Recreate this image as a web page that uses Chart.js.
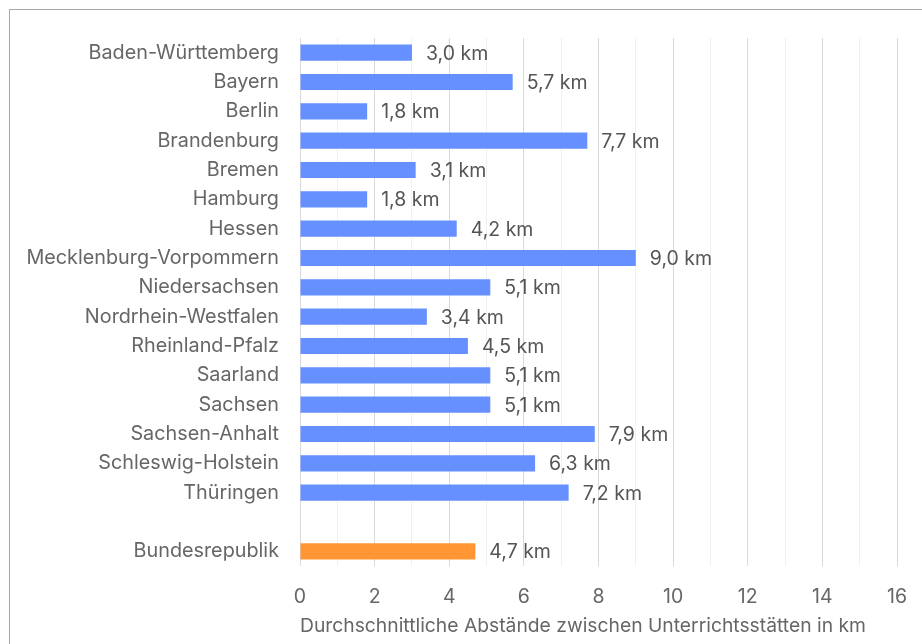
<!DOCTYPE html>
<html lang="de">
<head>
    <meta charset="UTF-8">
    <title>Durchschnittliche Abstände zwischen Unterrichtsstätten</title>
    <script src="https://cdn.jsdelivr.net/npm/chart.js"></script>
    <style>
        html, body {
            margin: 0;
            padding: 0;
            background: #fff;
            overflow: hidden;
        }
        .frame {
            position: absolute;
            left: 9px;
            top: 9px;
            width: 960px;
            height: 700px;
            border: 1px solid #a8a8a8;
        }
        .chart-container {
            position: absolute;
            left: 0;
            top: 0;
            width: 922px;
            height: 644px;
        }
    </style>
</head>
<body>
    <div class="frame"></div>
    <div class="chart-container">
        <canvas id="barChart"></canvas>
    </div>

    <script>
        // Länder (leere Zeile vor der Bundesrepublik)
        const categories = ['Baden-Württemberg', 'Bayern', 'Berlin', 'Brandenburg', 'Bremen', 'Hamburg', 'Hessen',
            'Mecklenburg-Vorpommern', 'Niedersachsen', 'Nordrhein-Westfalen', 'Rheinland-Pfalz', 'Saarland',
            'Sachsen', 'Sachsen-Anhalt', 'Schleswig-Holstein', 'Thüringen', '', 'Bundesrepublik'];
        const distances = [3.0, 5.7, 1.8, 7.7, 3.1, 1.8, 4.2, 9.0, 5.1, 3.4, 4.5, 5.1, 5.1, 7.9, 6.3, 7.2, null, 4.7];
        const barColors = ['#6690ff', '#6690ff', '#6690ff', '#6690ff', '#6690ff', '#6690ff', '#6690ff', '#6690ff',
            '#6690ff', '#6690ff', '#6690ff', '#6690ff', '#6690ff', '#6690ff', '#6690ff', '#6690ff', '#6690ff', '#ff9533'];
        const axisTitle = 'Durchschnittliche Abstände zwischen Unterrichtsstätten in km';

        const fontFamily = 'Inter, "Liberation Sans", sans-serif';

        // Werte rechts neben die Balken schreiben
        const valueLabels = {
            id: 'valueLabels',
            afterDatasetsDraw(chart) {
                const ctx = chart.ctx;
                const meta = chart.getDatasetMeta(0);
                ctx.save();
                ctx.font = '19.5px ' + fontFamily;
                ctx.fillStyle = '#555';
                ctx.textAlign = 'left';
                ctx.textBaseline = 'middle';
                meta.data.forEach((bar, i) => {
                    const v = distances[i];
                    if (v === null) return;
                    const text = v.toFixed(1).replace('.', ',') + ' km';
                    ctx.fillText(text, bar.x + 14, bar.y + 1);
                });
                ctx.restore();
            }
        };

        const ctx = document.getElementById('barChart').getContext('2d');
        new Chart(ctx, {
            type: 'bar',
            data: {
                labels: categories,
                datasets: [{
                    data: distances,
                    backgroundColor: barColors,
                    barPercentage: 0.55,
                    categoryPercentage: 1
                }]
            },
            options: {
                indexAxis: 'y',
                responsive: true,
                maintainAspectRatio: false,
                animation: false,
                layout: {
                    padding: { top: 38, right: 25, bottom: 0, left: 0 }
                },
                scales: {
                    x: {
                        min: 0,
                        max: 16,
                        ticks: {
                            stepSize: 1,
                            padding: 19,
                            color: '#666',
                            font: { family: fontFamily, size: 19.5 },
                            autoSkip: false,
                            maxRotation: 0,
                            callback: (v) => (v % 2 === 0 ? String(v) : '')
                        },
                        grid: {
                            drawTicks: false,
                            color: (c) => (c.tick && c.tick.value % 2 === 0 ? '#d9d9d9' : '#f0f0f0'),
                            lineWidth: 1
                        },
                        border: { display: false },
                        title: {
                            display: true,
                            text: axisTitle,
                            align: 'start',
                            color: '#666',
                            font: { family: fontFamily, size: 19.3 },
                            padding: { top: 4, bottom: 6 }
                        },
                        afterFit: (scale) => {
                            scale.height = 78;
                            scale.paddingLeft = 0;
                            scale.paddingRight = 0;
                        }
                    },
                    y: {
                        ticks: {
                            padding: 21,
                            color: '#666',
                            font: { family: fontFamily, size: 19.8 },
                            autoSkip: false
                        },
                        grid: { display: false, drawTicks: false },
                        border: { display: false },
                        afterFit: (scale) => { scale.width = 300; }
                    }
                },
                plugins: {
                    legend: { display: false },
                    tooltip: { enabled: false }
                }
            },
            plugins: [valueLabels]
        });
    </script>
</body>
</html>
